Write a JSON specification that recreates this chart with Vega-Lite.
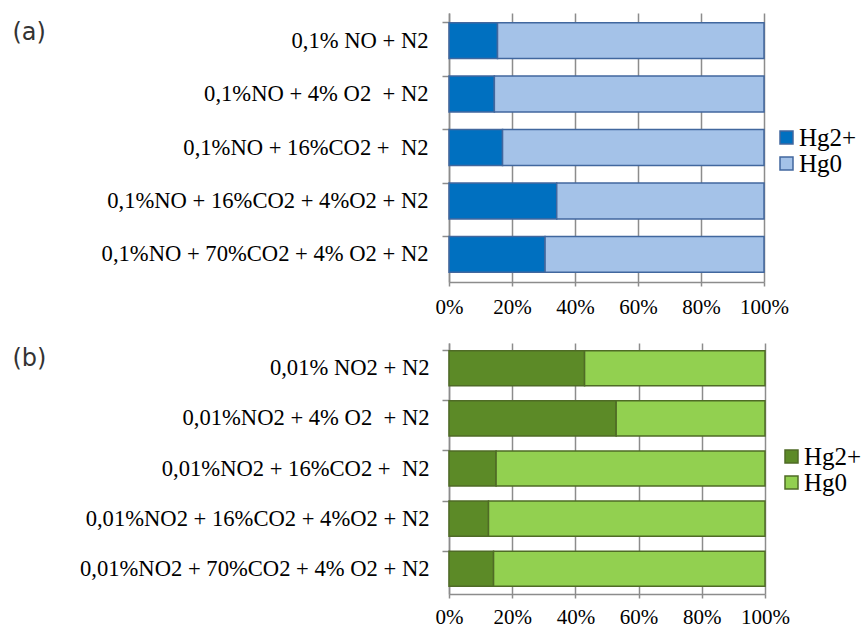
{
  "$schema": "https://vega.github.io/schema/vega-lite/v6.json",
  "padding": {"left": 12, "top": 13, "right": 0, "bottom": 0},
  "background": "white",
  "data": {"values": [
    {"panel": "a", "cond": "0,1% NO + N2\u00a0", "species": "Hg2+", "k": 1, "v": 15.4},
    {"panel": "a", "cond": "0,1% NO + N2\u00a0", "species": "Hg0", "k": 2, "v": 84.6},
    {"panel": "a", "cond": "0,1%NO + 4% O2 \u00a0+ N2", "species": "Hg2+", "k": 1, "v": 14.4},
    {"panel": "a", "cond": "0,1%NO + 4% O2 \u00a0+ N2", "species": "Hg0", "k": 2, "v": 85.6},
    {"panel": "a", "cond": "0,1%NO + 16%CO2 + \u00a0N2", "species": "Hg2+", "k": 1, "v": 17.0},
    {"panel": "a", "cond": "0,1%NO + 16%CO2 + \u00a0N2", "species": "Hg0", "k": 2, "v": 83.0},
    {"panel": "a", "cond": "0,1%NO + 16%CO2 + 4%O2 + N2", "species": "Hg2+", "k": 1, "v": 34.2},
    {"panel": "a", "cond": "0,1%NO + 16%CO2 + 4%O2 + N2", "species": "Hg0", "k": 2, "v": 65.8},
    {"panel": "a", "cond": "0,1%NO + 70%CO2 + 4% O2 + N2\u00a0", "species": "Hg2+", "k": 1, "v": 30.5},
    {"panel": "a", "cond": "0,1%NO + 70%CO2 + 4% O2 + N2\u00a0", "species": "Hg0", "k": 2, "v": 69.5},
    {"panel": "b", "cond": "0,01% NO2 + N2\u00a0", "species": "Hg2+", "k": 1, "v": 42.9},
    {"panel": "b", "cond": "0,01% NO2 + N2\u00a0", "species": "Hg0", "k": 2, "v": 57.1},
    {"panel": "b", "cond": "0,01%NO2 + 4% O2 \u00a0+ N2", "species": "Hg2+", "k": 1, "v": 52.9},
    {"panel": "b", "cond": "0,01%NO2 + 4% O2 \u00a0+ N2", "species": "Hg0", "k": 2, "v": 47.1},
    {"panel": "b", "cond": "0,01%NO2 + 16%CO2 + \u00a0N2", "species": "Hg2+", "k": 1, "v": 14.9},
    {"panel": "b", "cond": "0,01%NO2 + 16%CO2 + \u00a0N2", "species": "Hg0", "k": 2, "v": 85.1},
    {"panel": "b", "cond": "0,01%NO2 + 16%CO2 + 4%O2 + N2", "species": "Hg2+", "k": 1, "v": 12.5},
    {"panel": "b", "cond": "0,01%NO2 + 16%CO2 + 4%O2 + N2", "species": "Hg0", "k": 2, "v": 87.5},
    {"panel": "b", "cond": "0,01%NO2 + 70%CO2 + 4% O2 + N2\u00a0", "species": "Hg2+", "k": 1, "v": 14.1},
    {"panel": "b", "cond": "0,01%NO2 + 70%CO2 + 4% O2 + N2\u00a0", "species": "Hg0", "k": 2, "v": 85.9}
  ]},
  "config": {
    "view": {"stroke": null},
    "axis": {
      "labelFont": "Liberation Serif",
      "labelColor": "black",
      "domainColor": "#8c8c8c",
      "domainWidth": 1.5,
      "tickColor": "#8c8c8c",
      "tickWidth": 1.5,
      "gridColor": "#8c8c8c",
      "gridWidth": 1.5
    },
    "legend": {
      "labelFont": "Liberation Serif",
      "labelFontSize": 25,
      "labelColor": "black",
      "symbolType": "square",
      "symbolSize": 169,
      "symbolStrokeWidth": 1.5,
      "rowPadding": 0,
      "padding": 0,
      "labelOffset": 0
    }
  },
  "spacing": 26,
  "resolve": {"scale": {"color": "independent"}},
  "vconcat": [
    {
      "width": 315,
      "height": 269,
      "transform": [{"filter": "datum.panel === 'a'"}],
      "mark": {"type": "bar", "stroke": "#41679E", "strokeWidth": 1.5},
      "encoding": {
        "y": {
          "field": "cond", "type": "nominal", "sort": null,
          "scale": {"paddingInner": 0.33, "paddingOuter": 0.18},
          "axis": {
            "title": "(a)", "titleAngle": 0, "titleX": -437, "titleY": 26,
            "titleAlign": "left", "titleBaseline": "alphabetic",
            "titleFont": "DejaVu Sans", "titleFontSize": 24, "titleFontWeight": "normal", "titleColor": "#333333",
            "labelFontSize": 22.6, "labelPadding": 14, "tickSize": 7, "bandPosition": 0, "labelLimit": 500
          }
        },
        "x": {
          "field": "v", "type": "quantitative", "stack": "normalize",
          "scale": {"domain": [0, 1]},
          "axis": {"title": null, "format": ".0%", "values": [0, 0.2, 0.4, 0.6, 0.8, 1], "labelFontSize": 21, "tickSize": 4, "labelPadding": 10, "grid": true, "labelOverlap": false, "labelFlush": false}
        },
        "color": {
          "field": "species", "type": "nominal",
          "scale": {"domain": ["Hg2+", "Hg0"], "range": ["#0070C0", "#A4C2E8"]},
          "legend": {"title": null, "orient": "none", "legendX": 325, "legendY": 112, "symbolStrokeColor": "#41679E", "labelFont": "Liberation Serif", "labelFontSize": 25, "labelOffset": 0, "rowPadding": 0}
        },
        "order": {"field": "k", "type": "quantitative"}
      }
    },
    {
      "width": 316,
      "height": 251,
      "transform": [{"filter": "datum.panel === 'b'"}],
      "mark": {"type": "bar", "stroke": "#4F6B26", "strokeWidth": 1.5},
      "encoding": {
        "y": {
          "field": "cond", "type": "nominal", "sort": null,
          "scale": {"paddingInner": 0.3, "paddingOuter": 0.155},
          "axis": {
            "title": "(b)", "titleAngle": 0, "titleX": -437, "titleY": 22,
            "titleAlign": "left", "titleBaseline": "alphabetic",
            "titleFont": "DejaVu Sans", "titleFontSize": 24, "titleFontWeight": "normal", "titleColor": "#333333",
            "labelFontSize": 22.6, "labelPadding": 13, "tickSize": 7, "bandPosition": 0, "labelLimit": 500
          }
        },
        "x": {
          "field": "v", "type": "quantitative", "stack": "normalize",
          "scale": {"domain": [0, 1]},
          "axis": {"title": null, "format": ".0%", "values": [0, 0.2, 0.4, 0.6, 0.8, 1], "labelFontSize": 21, "tickSize": 4, "labelPadding": 8, "grid": true, "labelOverlap": false, "labelFlush": false}
        },
        "color": {
          "field": "species", "type": "nominal",
          "scale": {"domain": ["Hg2+", "Hg0"], "range": ["#5C8A27", "#92D050"]},
          "legend": {"title": null, "orient": "none", "legendX": 330, "legendY": 101, "symbolStrokeColor": "#4F6B26", "labelFont": "Liberation Serif", "labelFontSize": 25, "labelOffset": 0, "rowPadding": 0}
        },
        "order": {"field": "k", "type": "quantitative"}
      }
    }
  ]
}
